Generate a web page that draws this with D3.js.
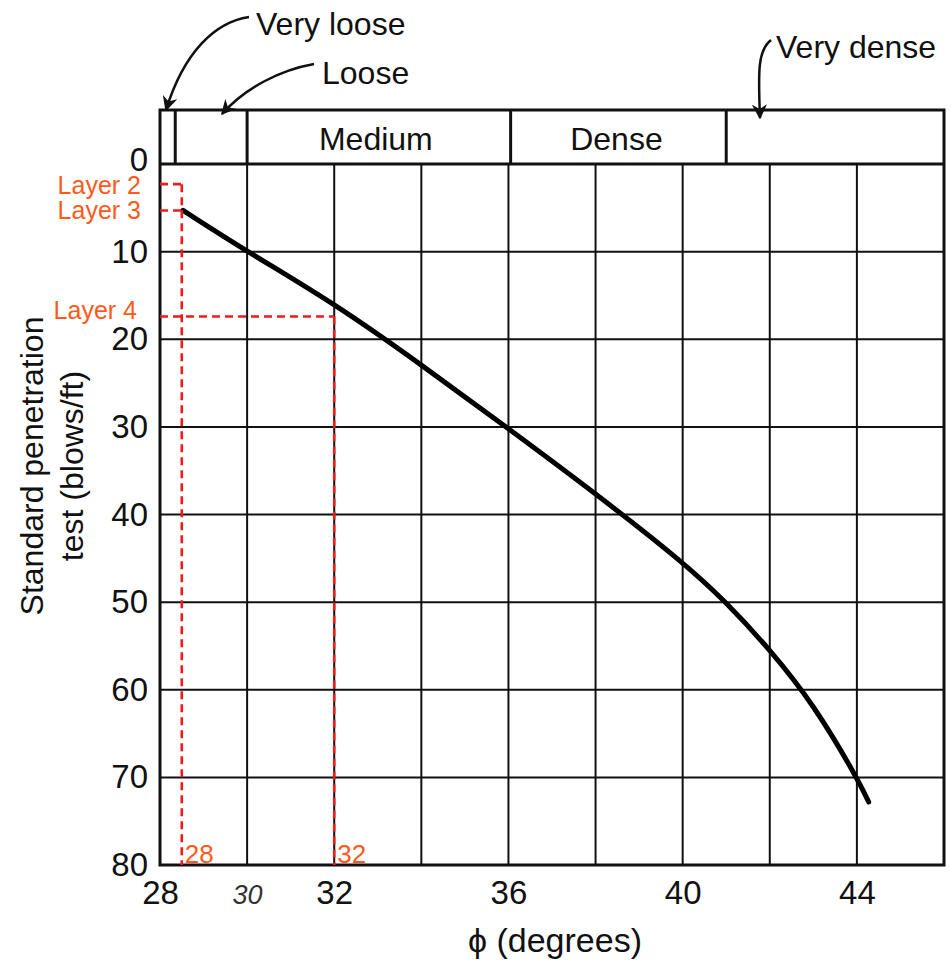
<!DOCTYPE html>
<html>
<head>
<meta charset="utf-8">
<script src="https://cdn.jsdelivr.net/npm/d3@7/dist/d3.min.js"></script>
<style>
  html, body { margin: 0; padding: 0; background: #fff; }
  svg { display: block; }
  text { font-family: "Liberation Sans", Arial, sans-serif; }
</style>
</head>
<body>
<svg id="chart" width="951" height="964"></svg>
<script>
// Friction angle phi (degrees) against SPT blow count N
const curvePhi = [28.53, 30, 32, 34, 36, 38, 40, 41, 42, 43, 44, 44.27];
const curveN   = [5.3, 10.0, 15.9, 22.9, 30.2, 37.6, 45.4, 50, 55.4, 61.6, 70, 72.8];

// Relative density bands along the phi axis
const bandNames = ["Very loose", "Loose", "Medium", "Dense", "Very dense"];
const bandEdges = [28, 28.35, 30, 36.05, 41, 46];

// Tick labels
const xTickValues = [28, 30, 32, 36, 40, 44];
const xGridValues = [30, 32, 34, 36, 38, 40, 42, 44];
const yTickValues = [0, 10, 20, 30, 40, 50, 60, 70, 80];

// Soil layer readings
const layerNames = ["Layer 2", "Layer 3", "Layer 4"];
const layerN     = [2.3, 5.3, 17.4];
const layerPhi   = [28.5, 28.5, 32];
const readPhi    = [28.5, 32];
const readLabels = ["28", "32"];

const svg = d3.select("#chart");
const x = d3.scaleLinear().domain([28, 46]).range([160, 944]);
const y = d3.scaleLinear().domain([0, 80]).range([164, 865]);
const bandTop = 110;

// grid
const grid = svg.append("g").attr("stroke", "#111");
grid.selectAll("line.v").data(xGridValues).join("line")
  .attr("x1", d => x(d)).attr("x2", d => x(d))
  .attr("y1", y(0)).attr("y2", y(80))
  .attr("stroke-width", 2);
grid.selectAll("line.h").data(yTickValues.filter(d => d > 0 && d < 80)).join("line")
  .attr("x1", x(28)).attr("x2", x(46))
  .attr("y1", d => y(d)).attr("y2", d => y(d))
  .attr("stroke-width", 2);

// band strip above the plot
const bands = bandNames.map((name, i) => ({ name, a: bandEdges[i], b: bandEdges[i + 1] }));
grid.selectAll("line.band").data(bandEdges.slice(1, -1)).join("line")
  .attr("x1", d => x(d)).attr("x2", d => x(d))
  .attr("y1", bandTop).attr("y2", y(0))
  .attr("stroke-width", 3);

// frame
const frame = svg.append("g").attr("stroke", "#111").attr("stroke-width", 3).attr("fill", "none");
frame.append("rect")
  .attr("x", x(28)).attr("y", bandTop)
  .attr("width", x(46) - x(28)).attr("height", y(80) - bandTop);
frame.append("line")
  .attr("x1", x(28)).attr("x2", x(46))
  .attr("y1", y(0)).attr("y2", y(0));

// band labels inside the strip
svg.append("g").selectAll("text").data(bands.filter(b => b.name === "Medium" || b.name === "Dense")).join("text")
  .attr("x", d => (x(d.a) + x(d.b)) / 2 + (d.name === "Dense" ? -2 : -3))
  .attr("y", 150)
  .attr("text-anchor", "middle")
  .attr("font-size", 32)
  .attr("fill", "#111")
  .text(d => d.name);

// callout labels for the narrow and outer bands
const defs = svg.append("defs");
defs.append("marker")
  .attr("id", "head").attr("viewBox", "0 0 10 10")
  .attr("refX", 9).attr("refY", 5)
  .attr("markerWidth", 6).attr("markerHeight", 6)
  .attr("orient", "auto-start-reverse")
  .append("path").attr("d", "M0,0 L10,5 L0,10 L3,5 Z").attr("fill", "#111");

const callouts = [
  { name: "Very loose", tx: 256, ty: 35, path: "M249,17 C215,22 184,52 166,110" },
  { name: "Loose", tx: 322, ty: 84, path: "M314,64 C280,70 245,88 222,114" },
  { name: "Very dense", tx: 776, ty: 58, path: "M771,40 C758,50 758,70 760,118" }
];
svg.append("g").selectAll("path").data(callouts).join("path")
  .attr("d", d => d.path)
  .attr("fill", "none").attr("stroke", "#111").attr("stroke-width", 2.5)
  .attr("marker-end", "url(#head)");
svg.append("g").selectAll("text").data(callouts).join("text")
  .attr("x", d => d.tx).attr("y", d => d.ty)
  .attr("font-size", 32).attr("fill", "#111")
  .text(d => d.name);

// the phi-N curve
const pts = curvePhi.map((p, i) => [p, curveN[i]]);
svg.append("path")
  .datum(pts)
  .attr("fill", "none").attr("stroke", "#000").attr("stroke-width", 5)
  .attr("stroke-linecap", "round")
  .attr("d", d3.line().x(d => x(d[0])).y(d => y(d[1])).curve(d3.curveBasis));

// axes
const yAxis = svg.append("g")
  .attr("transform", `translate(${x(28)},0)`)
  .call(d3.axisLeft(y).tickValues(yTickValues).tickSize(0).tickPadding(12));
yAxis.select(".domain").remove();
yAxis.selectAll("text").attr("font-size", 33).attr("fill", "#111")
  .attr("font-family", "Liberation Sans, Arial, sans-serif");
// the zero label sits a touch higher, clear of the layer labels below it
yAxis.selectAll(".tick").filter(d => d === 0).select("text").attr("dy", "0.2em");

const xAxis = svg.append("g")
  .attr("transform", `translate(0,${y(80)})`)
  .call(d3.axisBottom(x).tickValues(xTickValues).tickSize(0).tickPadding(16));
xAxis.select(".domain").remove();
xAxis.selectAll("text").attr("font-size", 33).attr("fill", "#111")
  .attr("font-family", "Liberation Sans, Arial, sans-serif");
xAxis.selectAll(".tick").filter(d => d === 30).select("text")
  .attr("font-family", "DejaVu Serif, serif")
  .attr("font-style", "italic")
  .attr("font-size", 27)
  .attr("dy", "0.85em")
  .attr("fill", "#333");

// axis titles
svg.append("text")
  .attr("x", 555).attr("y", 952)
  .attr("text-anchor", "middle")
  .attr("font-size", 34).attr("fill", "#111")
  .text("\u03D5 (degrees)");
const yTitle = svg.append("text")
  .attr("transform", "translate(0,466) rotate(-90)")
  .attr("text-anchor", "middle")
  .attr("font-size", 32).attr("fill", "#111");
yTitle.append("tspan").attr("x", 0).attr("y", 43).text("Standard penetration");
yTitle.append("tspan").attr("x", 0).attr("y", 83).text("test (blows/ft)");

// layer readings
const red = "#f01a1a", orange = "#ff5a1a";
const dash = "8,5";
const ann = svg.append("g");
ann.selectAll("line.h").data(layerNames.map((n, i) => i)).join("line")
  .attr("x1", x(28)).attr("x2", i => x(layerPhi[i]))
  .attr("y1", i => y(layerN[i])).attr("y2", i => y(layerN[i]))
  .attr("stroke", red).attr("stroke-width", 2.6).attr("stroke-dasharray", dash);
ann.selectAll("line.v").data(readPhi).join("line")
  .attr("x1", d => x(d)).attr("x2", d => x(d))
  .attr("y1", d => y(d3.min(layerPhi.map((p, i) => p === d ? layerN[i] : 80))))
  .attr("y2", y(80))
  .attr("stroke", red).attr("stroke-width", 2.6).attr("stroke-dasharray", dash);
ann.selectAll("text.layer").data(layerNames.map((n, i) => i)).join("text")
  .attr("x", i => i === 2 ? 137 : 141)
  .attr("y", i => y(layerN[i]) + (i === 2 ? 3 : i === 0 ? 10 : 9))
  .attr("text-anchor", "end")
  .attr("font-size", 25).attr("fill", orange)
  .text(i => layerNames[i]);
ann.selectAll("text.read").data(readPhi.map((p, i) => i)).join("text")
  .attr("x", i => x(readPhi[i]) + 3)
  .attr("y", 863)
  .attr("font-size", 26).attr("fill", orange)
  .text(i => readLabels[i]);
</script>
</body>
</html>
